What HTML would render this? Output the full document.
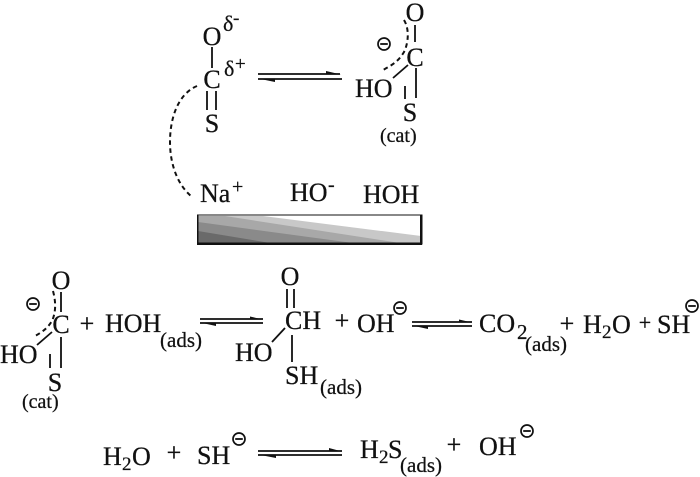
<!DOCTYPE html>
<html><head><meta charset="utf-8"><style>
html,body{margin:0;padding:0;background:#fff;width:700px;height:477px;overflow:hidden}
svg{display:block;filter:blur(0.3px)}
text{font-family:"Liberation Serif",serif;font-size:26px;fill:#111;stroke:#111;stroke-width:0.25px}
.s{font-size:21px}.c{font-size:20px}.d{font-size:22px}.n{font-size:19px}.t{font-size:21px}
.m{text-anchor:middle}
line,path.l{stroke:#111;stroke-width:1.8;fill:none}
.da{stroke:#111;stroke-width:2;fill:none;stroke-dasharray:4.5 3.5}
.h{fill:#111;stroke:none}
circle{fill:none;stroke:#111;stroke-width:1.7}
</style></head><body>
<svg width="700" height="477" viewBox="0 0 700 477" xmlns="http://www.w3.org/2000/svg">
<defs>
<g id="minus"><circle r="6"/><line x1="-3.800" y1="0" x2="3.800" y2="0"/></g>
</defs>

<!-- top left molecule -->
<text x="212" y="45" class="m">O</text>
<text x="223" y="31" class="d">δ</text><text x="233" y="24" class="n">-</text>
<line x1="212" y1="47" x2="212" y2="68"/>
<text x="212" y="88" class="m">C</text>
<text x="224" y="76" class="d">δ</text><text x="235" y="70" class="n">+</text>
<line x1="207" y1="91" x2="207" y2="110"/><line x1="216" y1="91" x2="216" y2="110"/>
<text x="212" y="132" class="m">S</text>
<path class="da" d="M197 86C178 94 170 118 170 142C170 165 178 185 191 196"/>

<!-- top arrow -->
<line x1="258" y1="74" x2="340" y2="74"/><path class="h" d="M326 71L341 74.500L326 74.500Z"/>
<line x1="258" y1="79" x2="342" y2="79"/><path class="h" d="M258 78.500L275 78.500L275 82Z"/>

<!-- top right molecule -->
<text x="415" y="21" class="m">O</text>
<line x1="415" y1="25" x2="415" y2="42"/>
<text x="415" y="66" class="m">C</text>
<path class="da" d="M404 20C410 30 408 44 404 52C398 62 392 65 383 70"/>
<text x="355" y="97">HO</text>
<line x1="393" y1="78" x2="408" y2="65"/>
<line x1="416" y1="68" x2="416" y2="98"/><line x1="405" y1="86" x2="405" y2="99"/>
<text x="410" y="121" class="m">S</text>
<text x="380" y="142" class="c">(cat)</text>
<use href="#minus" x="384" y="44"/>

<!-- labels above the bar -->
<text x="200" y="202">Na</text><text x="232" y="193" class="c">+</text>
<text x="290" y="201">HO</text><text x="328" y="191" class="c">-</text>
<text x="363" y="203">HOH</text>

<!-- gradient bar -->
<rect x="198" y="215" width="223" height="28" fill="#fff"/>
<path fill="#c8c8c8" d="M198 216L263 216L421 236L421 243L198 243Z"/>
<path fill="#a8a8a8" d="M198 216L225 216L400 243L198 243Z"/>
<path fill="#8a8a8a" d="M198 222L353 243L198 243Z"/>
<path fill="#6a6a6a" d="M198 231L270 243L198 243Z"/>
<path fill="none" stroke="#111" d="M198 215H421V243"/>
<rect x="197" y="214.500" width="1.500" height="30" fill="#111"/>
<rect x="420" y="214.500" width="2.500" height="30" fill="#111"/>
<rect x="197" y="242.500" width="225" height="2.500" fill="#111"/>

<!-- row 2, molecule 1 -->
<text x="61" y="289" class="m">O</text>
<line x1="61" y1="292" x2="61" y2="312"/>
<path class="da" d="M53 291C56 302 56 312 52 321C47 329 41 333 33 337"/>
<text x="61" y="333" class="m">C</text>
<text x="0" y="363">HO</text>
<line x1="37" y1="345" x2="52" y2="332"/>
<line x1="61" y1="337" x2="61" y2="368"/><line x1="50" y1="354" x2="50" y2="368"/>
<text x="55" y="391" class="m">S</text>
<text x="22" y="408" class="c">(cat)</text>
<use href="#minus" x="33" y="304"/>
<text x="87" y="332" class="m">+</text>
<text x="105" y="332">HOH</text>
<text x="160" y="347" class="s">(ads)</text>

<!-- arrow -->
<line x1="200" y1="319" x2="263" y2="319"/><path class="h" d="M250 316.500L263 319.500L250 319.500Z"/>
<line x1="200" y1="323" x2="263" y2="323"/><path class="h" d="M200 322.500L216 322.500L216 326Z"/>

<!-- molecule 2 -->
<text x="290" y="285" class="m">O</text>
<line x1="287" y1="289" x2="287" y2="308"/><line x1="294" y1="289" x2="294" y2="308"/>
<text x="285" y="329">CH</text>
<text x="235" y="361">HO</text>
<line x1="272" y1="342" x2="285" y2="328"/>
<line x1="292" y1="335" x2="292" y2="362"/>
<text x="285" y="384">SH</text>
<text x="320" y="394" class="s">(ads)</text>

<text x="342" y="329" class="m">+</text>
<text x="357" y="332">OH</text>
<use href="#minus" x="400" y="308"/>

<!-- arrow -->
<line x1="412" y1="322" x2="472" y2="322"/><path class="h" d="M459 319.500L472 322.500L459 322.500Z"/>
<line x1="412" y1="326" x2="472" y2="326"/><path class="h" d="M412 325.500L428 325.500L428 329Z"/>

<text x="479" y="332">CO</text>
<text x="517" y="339" class="t">2</text>
<text x="525" y="351" class="s">(ads)</text>
<text x="567" y="332" class="m">+</text>
<text x="583" y="333">H</text><text x="602" y="338" class="n">2</text><text x="612" y="333">O</text>
<text x="645" y="330" class="m" style="font-size:22px">+</text>
<text x="657" y="333">SH</text>
<use href="#minus" x="692" y="306"/>

<!-- row 3 -->
<text x="103" y="465">H</text><text x="122" y="470" class="n">2</text><text x="132" y="465">O</text>
<text x="174" y="461" class="m">+</text>
<text x="197" y="464">SH</text>
<use href="#minus" x="239" y="439"/>
<line x1="258" y1="451" x2="342" y2="451"/><path class="h" d="M329 448L342 451.500L329 451.500Z"/>
<line x1="258" y1="455" x2="342" y2="455"/><path class="h" d="M258 454.500L276 454.500L276 458Z"/>
<text x="360" y="458">H</text><text x="379" y="463" class="n">2</text><text x="388" y="458">S</text>
<text x="400" y="472" class="s">(ads)</text>
<text x="454" y="453" class="m">+</text>
<text x="479" y="455">OH</text>
<use href="#minus" x="527" y="431"/>
</svg>
</body></html>
